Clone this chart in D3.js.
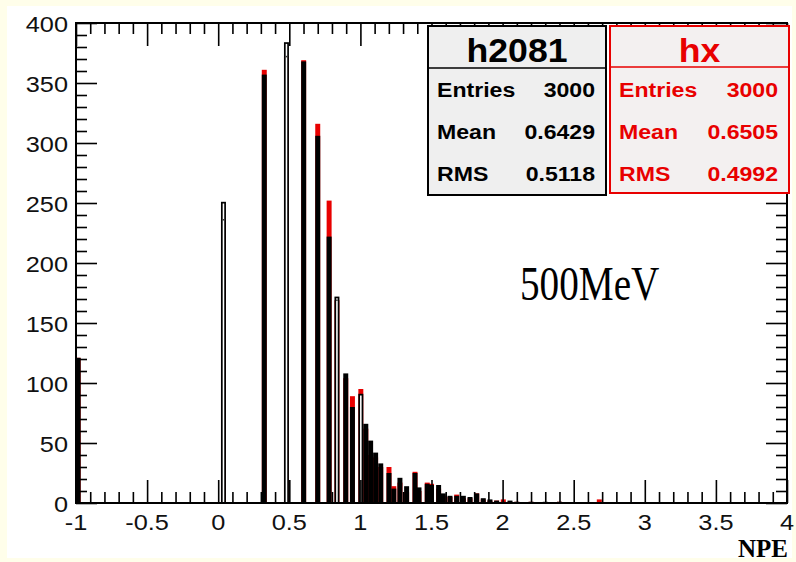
<!DOCTYPE html>
<html>
<head>
<meta charset="utf-8">
<script src="https://cdn.jsdelivr.net/npm/d3@7"></script>
<style>
  html, body { margin: 0; padding: 0; background: #fffeea; }
  svg { display: block; }
</style>
</head>
<body>
<svg id="chart" width="796" height="562"></svg>
<script>
// NPE bin centres and counts of the two histograms
const npe = [-0.985, 0.037, 0.324, 0.48, 0.601, 0.70, 0.78, 0.835, 0.897, 0.944,
             1.003, 1.038, 1.072, 1.107, 1.143, 1.201, 1.235, 1.278, 1.325, 1.384,
             1.412, 1.47, 1.50, 1.55, 1.583, 1.63, 1.677, 1.724, 1.771, 1.818,
             1.864, 1.911, 1.958, 2.005, 2.052, 2.1, 2.2, 2.3, 2.4, 2.68];
const h2081 = [121, 251, 357, 384, 368, 306, 222, 172, 108, 80,
               91, 66, 52, 42, 33, 25, 12, 21, 14, 25,
               13, 16, 15, 15, 8, 6, 6, 6, 5, 8,
               4, 3, 2, 1, 2, 1, 1, 1, 1, 0];
const hx = [121, 236, 361, 372, 369, 316, 252, 169, 104, 89,
            95, 62, 40, 38, 30, 30, 14, 17, 9, 26,
            10, 17, 16, 12, 6, 5, 7, 4, 4, 8,
            3, 2, 2, 3, 1, 1, 1, 0, 1, 3];

// axis ticks and labels
const xTickValues = [-1, -0.5, 0, 0.5, 1, 1.5, 2, 2.5, 3, 3.5, 4];
const xTickLabels = ["-1", "-0.5", "0", "0.5", "1", "1.5", "2", "2.5", "3", "3.5", "4"];
const yTickValues = [0, 50, 100, 150, 200, 250, 300, 350, 400];
const yTickLabels = ["0", "50", "100", "150", "200", "250", "300", "350", "400"];

// statistics boxes
const statNames = ["Entries", "Mean", "RMS"];
const statsH2081 = ["3000", "0.6429", "0.5118"];
const statsHx = ["3000", "0.6505", "0.4992"];

const svg = d3.select("#chart");
const frame = { left: 76, right: 787, top: 23, bottom: 503 };
const BIN_W = 0.035;
const RED = "#e80000";
const sans = "'Liberation Sans', Arial, Helvetica, sans-serif";
const serif = "'Liberation Serif', 'Times New Roman', serif";
const SX = 1.15; // horizontal stretch of the Helvetica texts
// bars of h2081 that are rendered as open outlines
const OPEN_BARS = new Set([1, 3, 7, 10]);

const x = d3.scaleLinear().domain([-1, 4]).range([frame.left, frame.right]);
const y = d3.scaleLinear().domain([0, 400]).range([frame.bottom, frame.top]);

// white canvas over the cream page
svg.append("rect").attr("x", 7).attr("y", 6).attr("width", 785).attr("height", 552)
  .attr("fill", "#ffffff");

const bins = npe.map((c, i) => ({ i, c, black: h2081[i], red: hx[i] }));
const x0 = d => x(d.c - BIN_W / 2);
const bw = d => x(d.c + BIN_W / 2) - x(d.c - BIN_W / 2);

// hx drawn first, h2081 on top
const plot = svg.append("g");
plot.selectAll("rect.red").data(bins.filter(d => d.red > 0)).join("rect")
  .attr("class", "red")
  .attr("x", x0).attr("width", bw)
  .attr("y", d => y(d.red))
  .attr("height", d => y(0) - y(d.red))
  .attr("fill", RED);

const solid = bins.filter(d => d.black > 0 && !OPEN_BARS.has(d.i));
const open = bins.filter(d => d.black > 0 && OPEN_BARS.has(d.i));

plot.selectAll("rect.black").data(solid).join("rect")
  .attr("class", "black")
  .attr("x", x0).attr("width", bw)
  .attr("y", d => y(d.black))
  .attr("height", d => y(0) - y(d.black))
  .attr("fill", "#000");

const SW = 1.7;
plot.selectAll("rect.open").data(open).join("rect")
  .attr("class", "open")
  .attr("x", d => x0(d) + SW / 2).attr("width", d => bw(d) - SW)
  .attr("y", d => y(d.black) + SW / 2)
  .attr("height", d => y(0) - y(d.black) - SW / 2)
  .attr("fill", "#fff").attr("stroke", "#000").attr("stroke-width", SW);

// top edge of hx seen inside the open bars
plot.selectAll("line.inner").data(open.filter(d => d.red < d.black)).join("line")
  .attr("class", "inner")
  .attr("x1", d => x0(d) + SW).attr("x2", d => x0(d) + bw(d) - SW)
  .attr("y1", d => y(d.red)).attr("y2", d => y(d.red))
  .attr("stroke", "#333").attr("stroke-width", 1.5);

// ROOT-style inward ticks on all four sides
const xMinor = d3.range(-10, 41).map(k => k / 10).filter(v => Math.abs(v * 2 - Math.round(v * 2)) > 1e-6);
const yMinor = d3.range(0, 41).map(k => k * 10).filter(v => v % 50 !== 0);

function styleAxis(g) {
  g.select(".domain").remove();
  g.selectAll("line").attr("stroke", "#000").attr("stroke-width", 1.6);
  g.selectAll("text").remove();
}

svg.append("g").attr("transform", `translate(0,${frame.bottom})`)
  .call(d3.axisBottom(x).tickValues(xMinor).tickSize(-11)).call(styleAxis);
svg.append("g").attr("transform", `translate(0,${frame.bottom})`)
  .call(d3.axisBottom(x).tickValues(xTickValues).tickSize(-23)).call(styleAxis);
svg.append("g").attr("transform", `translate(0,${frame.top})`)
  .call(d3.axisTop(x).tickValues(xMinor).tickSize(-11)).call(styleAxis);
svg.append("g").attr("transform", `translate(0,${frame.top})`)
  .call(d3.axisTop(x).tickValues(xTickValues).tickSize(-23)).call(styleAxis);
svg.append("g").attr("transform", `translate(${frame.left},0)`)
  .call(d3.axisLeft(y).tickValues(yMinor).tickSize(-11)).call(styleAxis);
svg.append("g").attr("transform", `translate(${frame.left},0)`)
  .call(d3.axisLeft(y).tickValues(yTickValues).tickSize(-21)).call(styleAxis);
svg.append("g").attr("transform", `translate(${frame.right},0)`)
  .call(d3.axisRight(y).tickValues(yMinor).tickSize(-11)).call(styleAxis);
svg.append("g").attr("transform", `translate(${frame.right},0)`)
  .call(d3.axisRight(y).tickValues(yTickValues).tickSize(-21)).call(styleAxis);

// frame
svg.append("rect")
  .attr("x", frame.left).attr("y", frame.top)
  .attr("width", frame.right - frame.left).attr("height", frame.bottom - frame.top)
  .attr("fill", "none").attr("stroke", "#000").attr("stroke-width", 2);

// tick labels
svg.append("g").selectAll("text").data(yTickValues).join("text")
  .attr("transform", d => `translate(68,${y(d) + 8.5}) scale(${SX},1)`)
  .attr("text-anchor", "end")
  .attr("font-family", sans).attr("font-size", 22).attr("fill", "#111")
  .text((d, i) => yTickLabels[i]);

svg.append("g").selectAll("text").data(xTickValues).join("text")
  .attr("transform", d => `translate(${x(d)},530) scale(${SX},1)`)
  .attr("text-anchor", "middle")
  .attr("font-family", sans).attr("font-size", 22).attr("fill", "#111")
  .text((d, i) => xTickLabels[i]);

// axis title
svg.append("text").attr("x", 788).attr("y", 557).attr("text-anchor", "end")
  .attr("font-family", serif).attr("font-weight", "bold").attr("font-size", 25)
  .attr("fill", "#000").text("NPE");

// beam energy annotation
svg.append("text")
  .attr("transform", `translate(520,300) scale(0.8,1)`)
  .attr("font-family", serif).attr("font-size", 49).attr("fill", "#000")
  .text("500MeV");

// statistics boxes
function statsBox(bx0, bx1, by0, by1, divY, color, fill, title, values) {
  const g = svg.append("g");
  g.append("rect").attr("x", bx0).attr("y", by0).attr("width", bx1 - bx0).attr("height", by1 - by0)
    .attr("fill", fill).attr("stroke", color).attr("stroke-width", 2);
  g.append("line").attr("x1", bx0).attr("x2", bx1).attr("y1", divY).attr("y2", divY)
    .attr("stroke", color).attr("stroke-width", 1.5);
  g.append("text")
    .attr("transform", `translate(${(bx0 + bx1) / 2},62) scale(1.08,1)`)
    .attr("text-anchor", "middle").attr("font-family", sans).attr("font-weight", "bold")
    .attr("font-size", 33).attr("fill", color).text(title);
  const rows = [97, 139, 181];
  statNames.forEach((name, i) => {
    g.append("text").attr("transform", `translate(${bx0 + 9},${rows[i]}) scale(1.1,1)`)
      .attr("font-family", sans).attr("font-weight", "bold").attr("font-size", 21)
      .attr("fill", color).text(name);
    g.append("text").attr("transform", `translate(${bx1 - 11},${rows[i]}) scale(1.1,1)`)
      .attr("text-anchor", "end")
      .attr("font-family", sans).attr("font-weight", "bold").attr("font-size", 21)
      .attr("fill", color).text(values[i]);
  });
}
statsBox(428, 606, 26, 195, 68, "#000", "#efefef", "h2081", statsH2081);
statsBox(610, 789, 26, 193, 67, RED, "#f3f0f0", "hx", statsHx);
</script>
</body>
</html>
